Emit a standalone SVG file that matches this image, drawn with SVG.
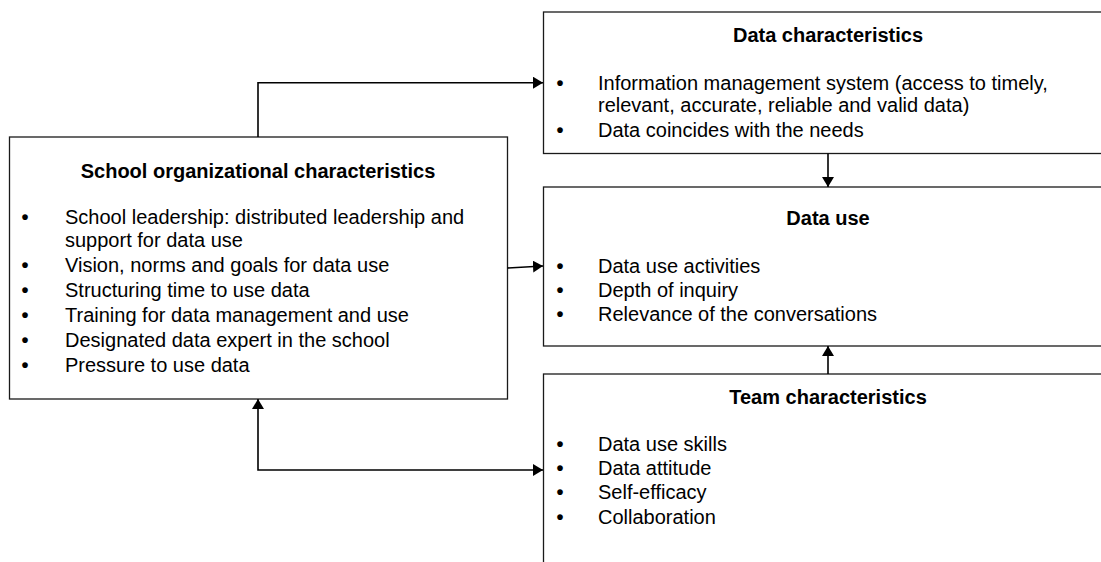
<svg xmlns="http://www.w3.org/2000/svg" width="1101" height="562" viewBox="0 0 1101 562">
<style>
.box{fill:#fff;stroke:#1a1a1a;stroke-width:1.3}
.t{font-family:"Liberation Sans",Arial,sans-serif;font-size:20px;font-weight:bold;fill:#000;text-anchor:middle}
.i{font-family:"Liberation Sans",Arial,sans-serif;font-size:20px;fill:#000}
.b{font-family:"Liberation Sans",Arial,sans-serif;font-size:20px;font-weight:bold;fill:#000;text-anchor:middle}
.c{fill:none;stroke:#000;stroke-width:1.6}
</style>
<defs>
<marker id="ah" viewBox="0 0 10 12" refX="10" refY="6" markerWidth="10" markerHeight="12" markerUnits="userSpaceOnUse" orient="auto-start-reverse">
<path d="M0,0 L10,6 L0,12 z" fill="#000"/>
</marker>
</defs>
<rect width="1101" height="562" fill="#fff"/>
<g id="school">
<rect class="box" x="9.5" y="137" width="498" height="262"/>
<text class="t" x="258" y="178">School organizational characteristics</text>
<text class="b" x="25" y="224">•</text><text class="i" x="65" y="224">School leadership: distributed leadership and</text>
<text class="i" x="65" y="247">support for data use</text>
<text class="b" x="25" y="272">•</text><text class="i" x="65" y="272">Vision, norms and goals for data use</text>
<text class="b" x="25" y="297">•</text><text class="i" x="65" y="297">Structuring time to use data</text>
<text class="b" x="25" y="322">•</text><text class="i" x="65" y="322">Training for data management and use</text>
<text class="b" x="25" y="347">•</text><text class="i" x="65" y="347">Designated data expert in the school</text>
<text class="b" x="25" y="372">•</text><text class="i" x="65" y="372">Pressure to use data</text>
</g>
<g id="datachar">
<rect class="box" x="543.5" y="12" width="570" height="141.5"/>
<text class="t" x="828" y="42">Data characteristics</text>
<text class="b" x="560" y="90">•</text><text class="i" x="598" y="90">Information management system (access to timely,</text>
<text class="i" x="598" y="112">relevant, accurate, reliable and valid data)</text>
<text class="b" x="560" y="137">•</text><text class="i" x="598" y="137">Data coincides with the needs</text>
</g>
<g id="datause">
<rect class="box" x="543.5" y="187" width="570" height="159"/>
<text class="t" x="828" y="225">Data use</text>
<text class="b" x="560" y="273">•</text><text class="i" x="598" y="273">Data use activities</text>
<text class="b" x="560" y="297">•</text><text class="i" x="598" y="297">Depth of inquiry</text>
<text class="b" x="560" y="321">•</text><text class="i" x="598" y="321">Relevance of the conversations</text>
</g>
<g id="team">
<rect class="box" x="543.5" y="374" width="570" height="200"/>
<text class="t" x="828" y="404">Team characteristics</text>
<text class="b" x="560" y="451">•</text><text class="i" x="598" y="451">Data use skills</text>
<text class="b" x="560" y="475">•</text><text class="i" x="598" y="475">Data attitude</text>
<text class="b" x="560" y="499">•</text><text class="i" x="598" y="499">Self-efficacy</text>
<text class="b" x="560" y="524">•</text><text class="i" x="598" y="524">Collaboration</text>
</g>
<g id="connectors">
<path class="c" d="M258,137 V82.7 H543" marker-end="url(#ah)"/>
<path class="c" d="M507.5,268 L543,266" marker-end="url(#ah)"/>
<path class="c" d="M828,153.5 V187" marker-end="url(#ah)"/>
<path class="c" d="M828,374 V346" marker-end="url(#ah)"/>
<path class="c" d="M258,399 V470 H543" marker-start="url(#ah)" marker-end="url(#ah)"/>
</g>
</svg>
